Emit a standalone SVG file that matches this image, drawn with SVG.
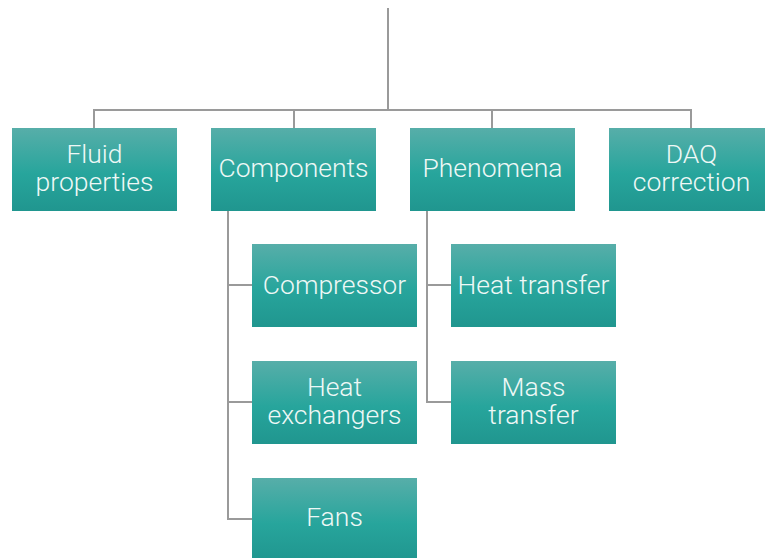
<svg xmlns="http://www.w3.org/2000/svg" width="765" height="558" viewBox="0 0 765 558">
  <defs>
    <linearGradient id="boxFill" x1="0" y1="0" x2="0" y2="1">
      <stop offset="0" stop-color="#57aea9"/>
      <stop offset="0.55" stop-color="#27a59c"/>
      <stop offset="1" stop-color="#20968f"/>
    </linearGradient>
  </defs>
  <style>
    .box { fill: url(#boxFill); }
    .label { font-family: Roboto, "Liberation Sans", sans-serif; font-weight: 300; font-size: 26.5px; fill: #eef8f6; text-anchor: middle; }
    .link { fill: none; stroke: #9a9a9a; stroke-width: 2; }
  </style>
  <rect width="765" height="558" fill="#ffffff"/>

  <g id="connectors">
    <path class="link" d="M388 8 V110"/>
    <path class="link" d="M94 128 V110 H691 V128"/>
    <path class="link" d="M294 110 V128"/>
    <path class="link" d="M492 110 V128"/>
    <path class="link" d="M228 211 V519 H252"/>
    <path class="link" d="M228 285 H252"/>
    <path class="link" d="M228 402 H252"/>
    <path class="link" d="M427 211 V402 H451"/>
    <path class="link" d="M427 285 H451"/>
  </g>

  <g id="fluid-properties">
    <rect class="box" x="12" y="128" width="165" height="83"/>
    <text class="label" x="94.5" y="163">Fluid</text>
    <text class="label" x="94.5" y="191">properties</text>
  </g>
  <g id="components">
    <rect class="box" x="211" y="128" width="165" height="83"/>
    <text class="label" x="293.5" y="177">Components</text>
  </g>
  <g id="phenomena">
    <rect class="box" x="410" y="128" width="165" height="83"/>
    <text class="label" x="492.5" y="177">Phenomena</text>
  </g>
  <g id="daq-correction">
    <rect class="box" x="609" y="128" width="165" height="83"/>
    <text class="label" x="691.5" y="163">DAQ</text>
    <text class="label" x="691.5" y="191">correction</text>
  </g>

  <g id="compressor">
    <rect class="box" x="252" y="244" width="165" height="83"/>
    <text class="label" x="334.5" y="294">Compressor</text>
  </g>
  <g id="heat-exchangers">
    <rect class="box" x="252" y="361" width="165" height="83"/>
    <text class="label" x="334.5" y="396">Heat</text>
    <text class="label" x="334.5" y="424">exchangers</text>
  </g>
  <g id="fans">
    <rect class="box" x="252" y="478" width="165" height="83"/>
    <text class="label" x="334.5" y="526">Fans</text>
  </g>

  <g id="heat-transfer">
    <rect class="box" x="451" y="244" width="165" height="83"/>
    <text class="label" x="533.5" y="294">Heat transfer</text>
  </g>
  <g id="mass-transfer">
    <rect class="box" x="451" y="361" width="165" height="83"/>
    <text class="label" x="533.5" y="396">Mass</text>
    <text class="label" x="533.5" y="424">transfer</text>
  </g>
</svg>
